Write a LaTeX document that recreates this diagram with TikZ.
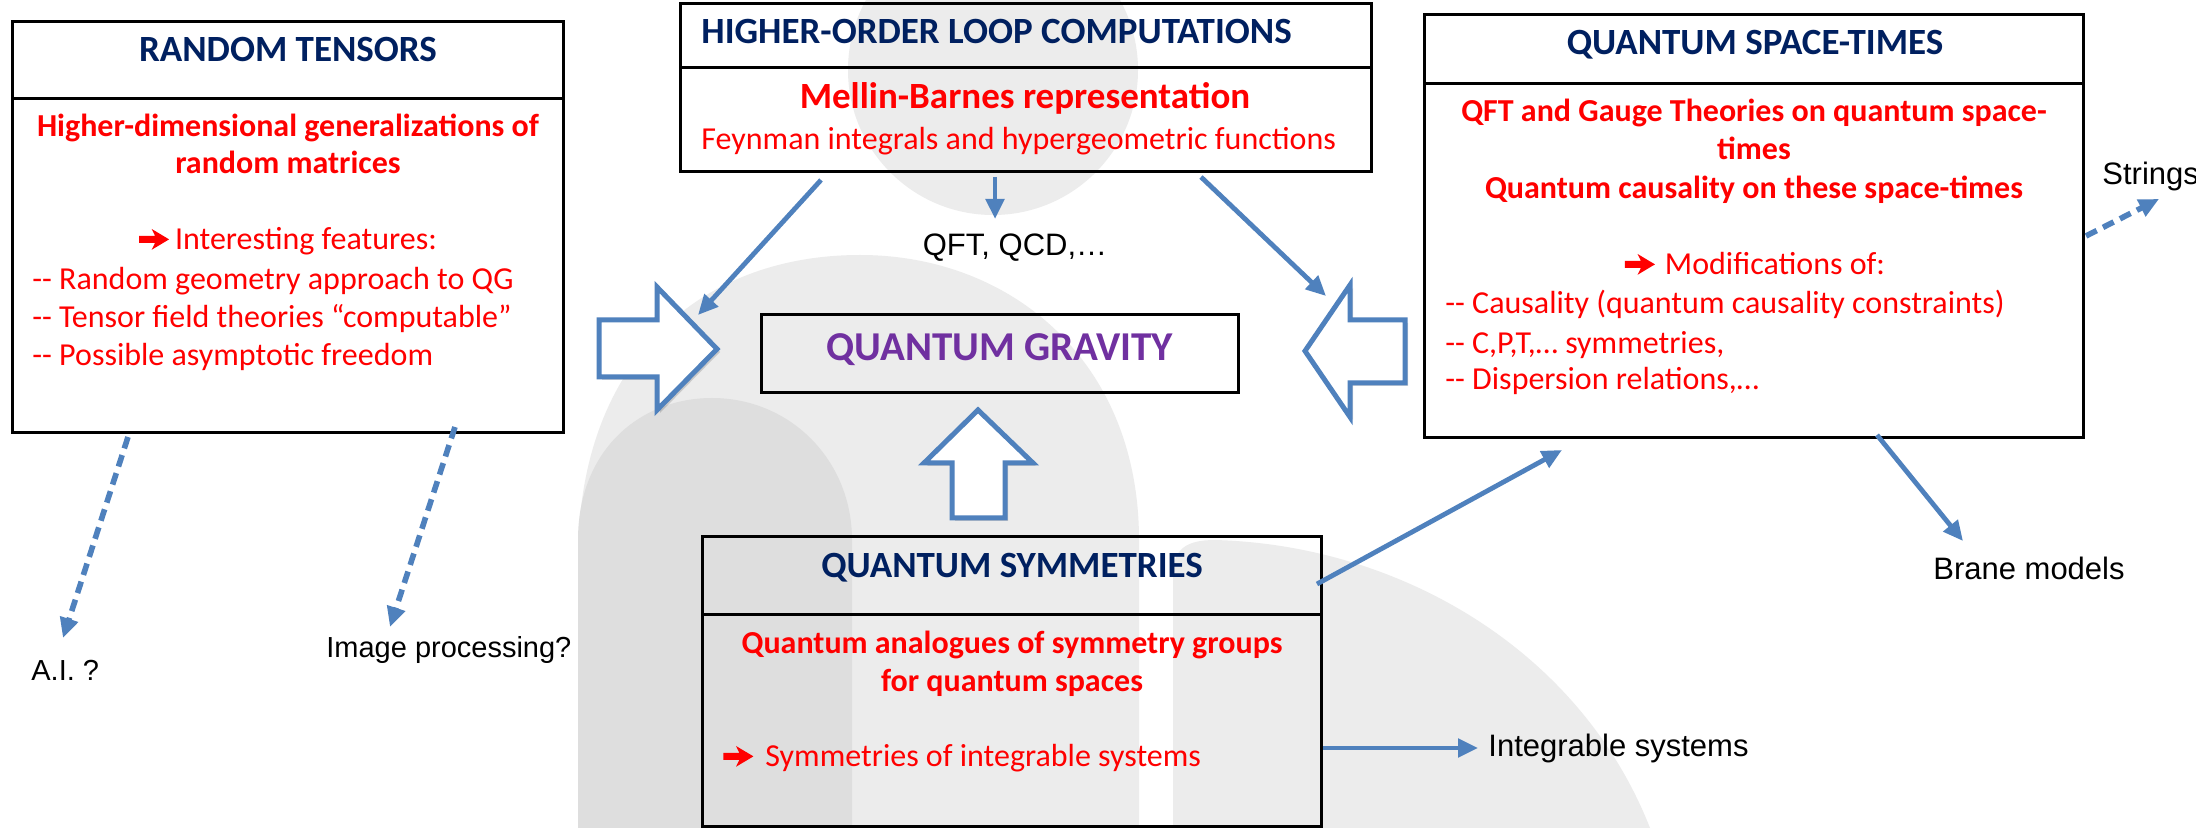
\documentclass[tikz,border=0pt]{standalone}
\usepackage{fontspec}
\setmainfont{Carlito}
\newfontfamily\arialf{Liberation Sans}
\usetikzlibrary{arrows.meta,calc}
\definecolor{tblue}{HTML}{4F81BD}
\definecolor{tnavy}{HTML}{002060}
\definecolor{tred}{HTML}{FF0000}
\definecolor{tpurple}{HTML}{7030A0}
\definecolor{wmA}{HTML}{ECECEC}
\definecolor{wmB}{HTML}{DEDEDE}
\newsavebox{\arrbox}
\begin{document}
\sbox{\arrbox}{\begin{pgfpicture}%
\pgfpathmoveto{\pgfpoint{0pt}{3.5pt}}%
\pgfpathlineto{\pgfpoint{8pt}{3.5pt}}%
\pgfpathlineto{\pgfpoint{6.3pt}{0pt}}%
\pgfpathlineto{\pgfpoint{15pt}{5.2pt}}%
\pgfpathlineto{\pgfpoint{6.3pt}{10.4pt}}%
\pgfpathlineto{\pgfpoint{8pt}{6.9pt}}%
\pgfpathlineto{\pgfpoint{0pt}{6.9pt}}%
\pgfpathclose
\pgfsetfillcolor{tred}%
\pgfusepath{fill}%
\end{pgfpicture}}%
\begin{tikzpicture}[x=0.5pt,y=-0.5pt,
  box/.style={draw=black,line width=1.5pt,inner sep=0pt,outer sep=0pt},
  ttl/.style={font=\fontsize{18.5pt}{22pt}\selectfont\bfseries,text=tnavy,inner sep=0pt,anchor=mid},
  rb/.style={font=\fontsize{16pt}{19pt}\selectfont\bfseries,text=tred,inner sep=0pt,anchor=mid},
  rn/.style={font=\fontsize{16pt}{19pt}\selectfont,text=tred,inner sep=0pt,anchor=mid},
  lbl/.style={font=\arialf\fontsize{15.5pt}{18pt}\selectfont,text=black,inner sep=0pt,anchor=mid},
  slbl/.style={lbl,font=\arialf\fontsize{14.5pt}{17pt}\selectfont},
  conn/.style={draw=tblue,line width=2.4pt,-{Triangle[length=10pt,width=9pt]}},
  dconn/.style={draw=tblue,line width=2.8pt,dash pattern=on 6pt off 3.5pt,-{Triangle[length=10pt,width=9pt]}},
  barrow/.style={draw=tblue,line width=2.5pt,fill=white,line join=miter},
  bshadow/.style={fill=black,opacity=0.15},
]
% background and bounding box
\fill[white] (0,0) rectangle (2196,828);
\useasboundingbox (0,0) rectangle (2196,828);

% watermark
\begin{scope}
\clip (0,0) rectangle (2196,828);
\fill[wmA] (993,70) circle[radius=145];
\fill[wmA] (578,828) -- (578,560) .. controls (578,360) and (700,255) .. (860,255)
   .. controls (1010,255) and (1139,360) .. (1139,540) -- (1139,828) -- cycle;
\fill[wmB] (578,828) -- (578,540) .. controls (578,450) and (640,398) .. (712,398)
   .. controls (790,398) and (852,460) .. (852,540) -- (852,828) -- cycle;
\fill[wmA] (1173,828) -- (1173,575) .. controls (1173,550) and (1185,540) .. (1215,540)
   .. controls (1400,545) and (1580,650) .. (1650,828) -- cycle;
\end{scope}

% RANDOM TENSORS
\node[box,minimum width=275.5pt,minimum height=38.5pt] (rtT) at (287.5,60.5) {};
\node[box,minimum width=275.5pt,minimum height=167pt] (rtB) at (287.5,266) {};
\node[ttl] (rtTt) at (288,57) {RANDOM TENSORS};
\node[rb] (rt1) at (288,132) {Higher-dimensional generalizations of};
\node[rb] (rt2) at (288,169) {random matrices};
\node[rn] (rt3) at (288,245) {\usebox{\arrbox}\hspace{3pt}Interesting features:};
\node[rn,anchor=mid west] (rt4) at (32,285) {-{}- Random geometry approach to QG};
\node[rn,anchor=mid west] (rt5) at (32,323) {-{}- Tensor field theories “computable”};
\node[rn,anchor=mid west] (rt6) at (32,361) {-{}- Possible asymptotic freedom};

% HIGHER-ORDER LOOP COMPUTATIONS
\node[box,minimum width=345.5pt,minimum height=32pt] (hlT) at (1025.5,36) {};
\node[box,minimum width=345.5pt,minimum height=52pt] (hlB) at (1025.5,120) {};
\node[ttl,anchor=mid west] (hlTt) at (701,39) {HIGHER-ORDER LOOP COMPUTATIONS};
\node[rb,font=\fontsize{18.5pt}{22pt}\selectfont\bfseries] (hl1) at (1025,104) {Mellin-Barnes representation};
\node[rn,anchor=mid west] (hl2) at (701,145) {Feynman integrals and hypergeometric functions};

% QUANTUM GRAVITY
\node[box,minimum width=238.5pt,minimum height=39pt] (qg) at (999.5,354) {};
\node[font=\fontsize{20.5pt}{24pt}\selectfont\bfseries,text=tpurple,inner sep=0pt,anchor=mid] (qgt) at (1000,356) {QUANTUM GRAVITY};

% QUANTUM SPACE-TIMES
\node[box,minimum width=329.5pt,minimum height=34.5pt] (stT) at (1753.5,49.5) {};
\node[box,minimum width=329.5pt,minimum height=177pt] (stB) at (1753.5,261) {};
\node[ttl] (stTt) at (1755,50) {QUANTUM SPACE-TIMES};
\node[rb] (st1) at (1754,117) {QFT and Gauge Theories on quantum space-};
\node[rb] (st2) at (1754,155) {times};
\node[rb] (st3) at (1754,194) {Quantum causality on these space-times};
\node[rn] (st4) at (1755,270) {\usebox{\arrbox}\hspace{5pt}Modifications of:};
\node[rn,anchor=mid west] (st5) at (1445,309) {-{}- Causality (quantum causality constraints)};
\node[rn,anchor=mid west] (st6) at (1445,349) {-{}- C,P,T,… symmetries,};
\node[rn,anchor=mid west] (st7) at (1445,385) {-{}- Dispersion relations,…};

% QUANTUM SYMMETRIES
\node[box,minimum width=309.5pt,minimum height=38.5pt] (qsT) at (1011.5,575.5) {};
\node[box,minimum width=309.5pt,minimum height=106pt] (qsB) at (1011.5,720) {};
\node[ttl] (qsTt) at (1012,573) {QUANTUM SYMMETRIES};
\node[rb] (qs1) at (1012,649) {Quantum analogues of symmetry groups};
\node[rb] (qs2) at (1012,687) {for quantum spaces};
\node[rn,anchor=mid west] (qs3) at (723,762) {\usebox{\arrbox}\hspace{6pt}Symmetries of integrable systems};

% free labels
\node[lbl] (qft) at (1015,251) {QFT, QCD,…};
\node[lbl,anchor=mid west] (str) at (2102,180) {Strings};
\node[lbl] (brane) at (2029,575) {Brane models};
\node[lbl,anchor=mid west] (intg) at (1488,752) {Integrable systems};
\node[slbl,anchor=mid west] (ai) at (31,676) {A.I. ?};
\node[slbl,anchor=mid west] (img) at (326,653) {Image processing?};

% block arrows (shadows then shapes)
\begin{scope}[shift={(3,3)}]
\fill[bshadow] (599,320) -- (657,320) -- (657,287) -- (717,349) -- (657,410) -- (657,377) -- (599,377) -- cycle;
\fill[bshadow] (1405,320) -- (1350,320) -- (1350,285) -- (1305,351) -- (1350,417) -- (1350,383) -- (1405,383) -- cycle;
\fill[bshadow] (952,518) -- (952,463) -- (924,463) -- (978,410) -- (1033,463) -- (1005,463) -- (1005,518) -- cycle;
\end{scope}
\filldraw[barrow] (599,320) -- (657,320) -- (657,287) -- (717,349) -- (657,410) -- (657,377) -- (599,377) -- cycle;
\filldraw[barrow] (1405,320) -- (1350,320) -- (1350,285) -- (1305,351) -- (1350,417) -- (1350,383) -- (1405,383) -- cycle;
\filldraw[barrow] (952,518) -- (952,463) -- (924,463) -- (978,410) -- (1033,463) -- (1005,463) -- (1005,518) -- cycle;

% connector end points
\coordinate (c1s) at (821,180);  \coordinate (c1e) at (698,315);
\coordinate (c2s) at (995,177);  \coordinate (c2e) at (995,219);
\coordinate (c3s) at (1201,177); \coordinate (c3e) at (1326,296);
\coordinate (c4s) at (1317,584); \coordinate (c4e) at (1562,450);
\coordinate (c5s) at (1323,748); \coordinate (c5e) at (1478,748);
\coordinate (c6s) at (1877,435); \coordinate (c6e) at (1963,541);
\coordinate (d1s) at (2086,236); \coordinate (d1e) at (2159,199);
\coordinate (d2s) at (128,437);  \coordinate (d2e) at (63,638);
\coordinate (d3s) at (455,427);  \coordinate (d3e) at (390,627);

\draw[conn] (c1s) -- (c1e);
\draw[conn] (c2s) -- (c2e);
\draw[conn] (c3s) -- (c3e);
\draw[conn] (c4s) -- (c4e);
\draw[conn] (c5s) -- (c5e);
\draw[conn] (c6s) -- (c6e);
\draw[dconn] (d1s) -- (d1e);
\draw[dconn] (d2s) -- (d2e);
\draw[dconn] (d3s) -- (d3e);
\end{tikzpicture}
\end{document}
